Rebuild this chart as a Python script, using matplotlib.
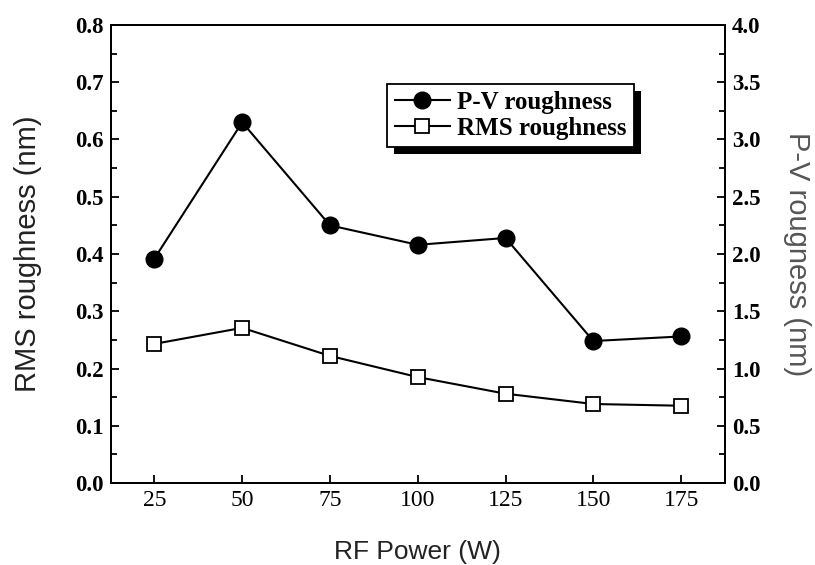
import matplotlib.pyplot as plt
from matplotlib import patheffects as pe

# values
rf_power = [25, 50, 75, 100, 125, 150, 175]
pv_roughness = [1.96, 3.15, 2.25, 2.08, 2.14, 1.24, 1.28]      # right axis (nm)
rms_roughness = [0.243, 0.271, 0.222, 0.185, 0.156, 0.138, 0.135]  # left axis (nm)

rms_ticks = [0.0, 0.1, 0.2, 0.3, 0.4, 0.5, 0.6, 0.7, 0.8]
pv_ticks = [0.0, 0.5, 1.0, 1.5, 2.0, 2.5, 3.0, 3.5, 4.0]

serif = "Liberation Serif"
sans = "Liberation Sans"

fig = plt.figure(figsize=(8.15, 5.65), dpi=100)
ax = fig.add_axes([0.1356, 0.1451, 0.7540, 0.8107])
ax2 = ax.twinx()

l_rms, = ax.plot(rf_power, rms_roughness, color="black", lw=1.5, marker="s",
                 ms=10, mfc="white", mec="black", mew=1.3, label="RMS roughness")
l_pv, = ax2.plot(rf_power, pv_roughness, color="black", lw=1.5, marker="o",
                 ms=12, mfc="black", mec="black", label="P-V roughness")

ax.set_xticks(rf_power)
ax.set_xticklabels([str(v) for v in rf_power], family=serif, fontsize=17)
ax.set_yticks(rms_ticks)
ax.set_yticklabels([f"{v:.1f}" for v in rms_ticks], family=serif,
                   fontsize=16.5, fontweight="bold")
ax.set_yticks([v + 0.05 for v in rms_ticks[:-1]], minor=True)
ax2.set_yticks(pv_ticks)
ax2.set_yticklabels([f"{v:.1f}" for v in pv_ticks], family=serif,
                    fontsize=16.5, fontweight="bold")
ax2.set_yticks([v + 0.25 for v in pv_ticks[:-1]], minor=True)

ax.set_xlim(12.5, 187.5)
ax.set_ylim(0, 0.8)
ax2.set_ylim(0, 4.0)

ax.tick_params(axis="x", direction="in", length=6, width=1.3, pad=5)
ax.tick_params(axis="y", which="major", direction="in", length=6, width=1.3, pad=5)
ax.tick_params(axis="y", which="minor", direction="in", length=4, width=1.3)
ax2.tick_params(axis="y", which="major", direction="in", length=6, width=1.3, pad=5)
ax2.tick_params(axis="y", which="minor", direction="in", length=4, width=1.3)

for sp in ax.spines.values():
    sp.set_linewidth(1.3)
for sp in ax2.spines.values():
    sp.set_linewidth(1.3)

xl = ax.set_xlabel("RF Power (W)", family=sans, fontsize=19, color="#222222")
yl = ax.set_ylabel("RMS roughness (nm)", family=sans, fontsize=21, color="#222222")
yr = ax2.set_ylabel("P-V rougness (nm)", family=sans, fontsize=21, color="#555555",
                    rotation=270)
ax.xaxis.set_label_coords(0.5, -0.151)
ax.yaxis.set_label_coords(-0.134, 0.5)
ax2.yaxis.set_label_coords(1.117, 0.5)
for t in (xl, yl, yr):
    t.set_verticalalignment("center")
    t.set_horizontalalignment("center")

leg = ax2.legend(handles=[l_pv, l_rms], loc="upper left",
                 bbox_to_anchor=(0.43, 0.899), frameon=True, fancybox=False,
                 framealpha=1.0, edgecolor="black",
                 prop={"family": serif, "weight": "bold", "size": 18},
                 handlelength=2.2, handletextpad=0.3, borderpad=0.3,
                 labelspacing=0.1, numpoints=1)
frame = leg.get_frame()
frame.set_linewidth(1.3)
frame.set_path_effects([pe.SimplePatchShadow(offset=(5, -5), shadow_rgbFace="black",
                                             alpha=1.0), pe.Normal()])

fig.savefig("out.png", dpi=100)
